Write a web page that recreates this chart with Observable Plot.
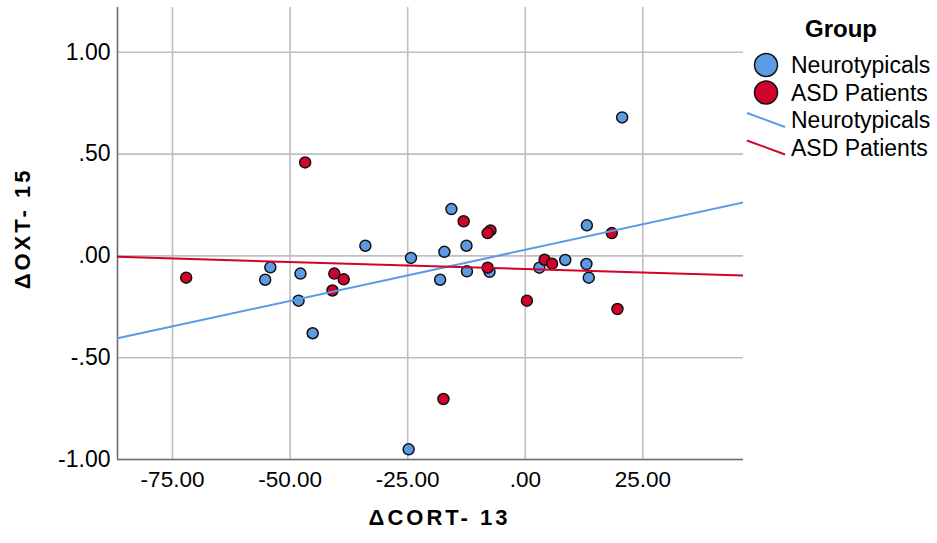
<!DOCTYPE html>
<html>
<head>
<meta charset="utf-8">
<script src="https://cdn.jsdelivr.net/npm/d3@7"></script>
<script src="https://cdn.jsdelivr.net/npm/@observablehq/plot@0.6"></script>
<style>
  html, body { margin: 0; padding: 0; background: #fff; }
  #wrap { position: relative; width: 937px; height: 543px; font-family: "Liberation Sans", Arial, sans-serif; }
  #legend { position: absolute; left: 740px; top: 0px; }
</style>
</head>
<body>
<div id="wrap"></div>
<script>
// ---- data ----
const groups = ["Neurotypicals", "ASD Patients"];
const groupColors = ["#5b9be6", "#d1022b"];

const ntCort = [20.6, -15.7, 13.1, -12.5, -17.2, -34.0, -24.3, -54.2, -55.3, -47.8, -48.2, -45.2, -24.8, -18.1, -12.4, -7.6, 3.0, 8.5, 13.0, 13.5];
const ntOxt  = [0.68, 0.23, 0.15, 0.05, 0.02, 0.05, -0.01, -0.056, -0.117, -0.087, -0.22, -0.38, -0.95, -0.117, -0.076, -0.078, -0.058, -0.02, -0.04, -0.107];

const asdCort = [-46.8, -13.1, -7.4, -8.0, 18.4, -72.1, -40.6, -38.6, -41.0, -8.0, 4.1, 5.7, 0.35, 19.6, -17.4];
const asdOxt  = [0.459, 0.17, 0.125, 0.112, 0.112, -0.107, -0.087, -0.115, -0.17, -0.058, -0.019, -0.038, -0.22, -0.261, -0.703];

const xDomain = [-86.7, 46.4];
const yDomain = [-1.0, 1.22];
const xTicks = [-75, -50, -25, 0, 25];
const xTickLabels = ["-75.00", "-50.00", "-25.00", ".00", "25.00"];
const yTicks = [1, 0.5, 0, -0.5, -1];
const yTickLabels = ["1.00", ".50", ".00", "-.50", "-1.00"];
const xTitle = "\u0394CORT- 13";
const yTitle = "\u0394OXT- 15";
const legendTitle = "Group";

// ---- build table ----
const points = [
  ...ntCort.map((x, i) => ({x, y: ntOxt[i], group: groups[0]})),
  ...asdCort.map((x, i) => ({x, y: asdOxt[i], group: groups[1]}))
];

function fit(xs, ys) {
  const mx = d3.mean(xs), my = d3.mean(ys);
  let sxy = 0, sxx = 0;
  xs.forEach((x, i) => { sxy += (x - mx) * (ys[i] - my); sxx += (x - mx) ** 2; });
  const b = sxy / sxx, a = my - b * mx;
  return xDomain.map(x => ({x, y: a + b * x}));
}
const fits = [
  ...fit(ntCort, ntOxt).map(d => ({...d, group: groups[0]})),
  ...fit(asdCort, asdOxt).map(d => ({...d, group: groups[1]}))
];

const xFmt = d => xTickLabels[xTicks.indexOf(d)];
const yFmt = d => yTickLabels[yTicks.indexOf(d)];

const chart = Plot.plot({
  width: 937,
  height: 543,
  marginLeft: 117,
  marginRight: 194,
  marginTop: 7,
  marginBottom: 84,
  style: { fontFamily: "'Liberation Sans', Arial, sans-serif", fontSize: "22px", color: "#000", background: "#fff" },
  x: { domain: xDomain },
  y: { domain: yDomain },
  color: { domain: groups, range: groupColors },
  marks: [
    Plot.gridX(xTicks, { stroke: "#bfbfbf", strokeOpacity: 1, strokeWidth: 1.6 }),
    Plot.gridY(yTicks, { stroke: "#bfbfbf", strokeOpacity: 1, strokeWidth: 1.6 }),
    Plot.axisX(xTicks, { tickFormat: xFmt, tickSize: 0, tickPadding: 12, label: null, fontSize: 22.5 }),
    Plot.axisY(yTicks, { tickFormat: yFmt, tickSize: 0, tickPadding: 7, label: null, fontSize: 23 }),
    Plot.ruleX([xDomain[0]], { stroke: "#6e6e6e", strokeWidth: 1.6 }),
    Plot.ruleY([yDomain[0]], { stroke: "#6e6e6e", strokeWidth: 1.6 }),
    Plot.dot(points, { x: "x", y: "y", fill: "group", r: 5.5, stroke: "#111", strokeWidth: 1.5 }),
    Plot.line(fits, { x: "x", y: "y", z: "group", stroke: "group", strokeWidth: 2, clip: true }),
    Plot.text([xTitle], { text: d => d, frameAnchor: "bottom", dy: 65, dx: 9, fontWeight: "bold", fontSize: 22, textAnchor: "middle" }),
    Plot.text([yTitle], { text: d => d, frameAnchor: "left", dx: -95, dy: -5, rotate: -90, fontWeight: "bold", fontSize: 22, textAnchor: "middle" })
  ]
});
document.getElementById("wrap").appendChild(chart);

// letter spacing for the bold axis titles
d3.select(chart).selectAll("text")
  .filter(function () { return this.textContent === xTitle || this.textContent === yTitle; })
  .style("letter-spacing", "3px");

// ---- legend ----
const lg = d3.select("#wrap").append("svg")
  .attr("id", "legend").attr("width", 197).attr("height", 170)
  .style("font-family", "'Liberation Sans', Arial, sans-serif");
lg.append("text").attr("x", 101).attr("y", 37).attr("text-anchor", "middle")
  .attr("font-weight", "bold").attr("font-size", 24).text(legendTitle);
groups.forEach((g, i) => {
  const cy = 65 + i * 27.5;
  lg.append("circle").attr("cx", 26).attr("cy", cy).attr("r", 11.5)
    .attr("fill", groupColors[i]).attr("stroke", "#111").attr("stroke-width", 1.5);
  lg.append("text").attr("x", 51).attr("y", cy + 8).attr("font-size", 23).text(g);
});
groups.forEach((g, i) => {
  const cy = 120 + i * 27.5;
  lg.append("line").attr("x1", 7).attr("y1", cy - 7).attr("x2", 45).attr("y2", cy + 7)
    .attr("stroke", groupColors[i]).attr("stroke-width", 2);
  lg.append("text").attr("x", 51).attr("y", cy + 8).attr("font-size", 23).text(g);
});
</script>
</body>
</html>
